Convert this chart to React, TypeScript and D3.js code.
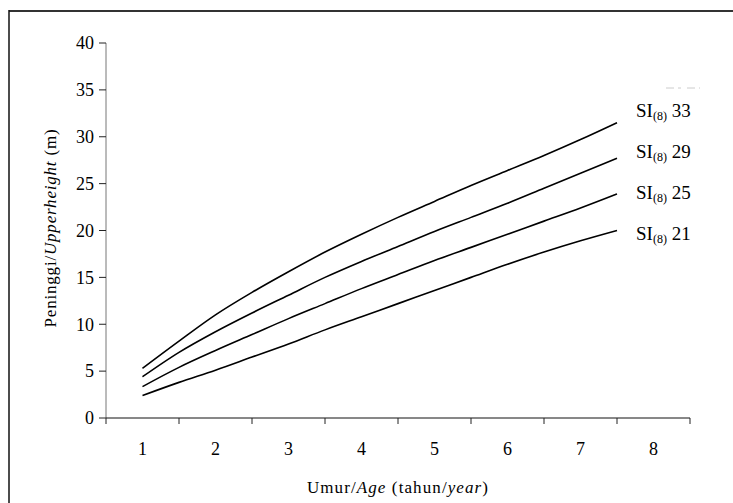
import React from 'react';
import * as d3 from 'd3';

// umur (tahun) sampled every half year
const ages = [1, 1.5, 2, 2.5, 3, 3.5, 4, 4.5, 5, 5.5, 6, 6.5, 7, 7.5];

const si33 = [5.3, 8.2, 11.0, 13.4, 15.6, 17.7, 19.6, 21.4, 23.1, 24.8, 26.4, 28.0, 29.7, 31.5];
const si29 = [4.4, 7.0, 9.2, 11.2, 13.1, 15.0, 16.7, 18.3, 19.9, 21.4, 22.9, 24.5, 26.1, 27.7];
const si25 = [3.35, 5.4, 7.2, 8.9, 10.6, 12.2, 13.8, 15.3, 16.8, 18.2, 19.6, 21.0, 22.4, 23.9];
const si21 = [2.4, 3.8, 5.1, 6.5, 7.9, 9.4, 10.8, 12.2, 13.6, 15.0, 16.4, 17.7, 18.9, 20.0];

const series = [
  {si: '33', values: si33},
  {si: '29', values: si29},
  {si: '25', values: si25},
  {si: '21', values: si21},
];

const xLabels = [1, 2, 3, 4, 5, 6, 7, 8];
const yTicks = [0, 5, 10, 15, 20, 25, 30, 35, 40];

const font = '"Liberation Serif", "Times New Roman", serif';

export default function App() {
  const x = d3.scaleLinear().domain([0.5, 8.5]).range([106, 690]);
  const y = d3.scaleLinear().domain([0, 40]).range([418, 43]);

  const line = d3.line<number>()
    .x((d, i) => x(ages[i]))
    .y((d) => y(d))
    .curve(d3.curveMonotoneX);

  const bandEdges = d3.range(0.5, 9, 1);
  const lastAge = ages[ages.length - 1];

  return (
    <svg width={733} height={503} style={{position: 'absolute', left: 0, top: 0, fontFamily: font}}>
      <rect width={733} height={503} fill="#fff" />
      {/* frame: only top and left edges show */}
      <line x1={9} x2={733} y1={11} y2={11} stroke="#333" strokeWidth={2} />
      <line x1={9} x2={9} y1={10} y2={503} stroke="#111" strokeWidth={1.5} />

      {/* y axis */}
      <line x1={106} x2={106} y1={y(40)} y2={y(0)} stroke="#777" strokeWidth={1} />
      {yTicks.map((t) => (
        <g key={t}>
          <line x1={99} x2={106} y1={y(t)} y2={y(t)} stroke="#222" />
          <text x={94} y={y(t)} dy="0.35em" textAnchor="end" fontSize={18}>{t}</text>
        </g>
      ))}

      {/* x axis */}
      <line x1={106} x2={690} y1={y(0)} y2={y(0)} stroke="#111" strokeWidth={1} />
      {bandEdges.map((e) => (
        <line key={e} x1={x(e)} x2={x(e)} y1={y(0)} y2={y(0) + 6} stroke="#222" />
      ))}
      {xLabels.map((l) => (
        <text key={l} x={x(l)} y={455} textAnchor="middle" fontSize={18}>{l}</text>
      ))}

      {/* curves */}
      {series.map((s) => (
        <path key={s.si} d={line(s.values) || ''} fill="none" stroke="#000" strokeWidth={1.6} />
      ))}

      {/* labels, stacked beside the line ends */}
      {series.map((s, i) => (
        <text key={'l' + s.si} x={x(lastAge) + 19} y={117 + i * 41} fontSize={19}>
          SI<tspan fontSize={12} dy={3}>(8)</tspan><tspan dy={-3}> {s.si}</tspan>
        </text>
      ))}

      {/* faint truncated mark */}
      <line x1={666} x2={700} y1={88} y2={88} stroke="#ccc" strokeWidth={1} strokeDasharray="8 4 3 6" />

      {/* axis titles */}
      <text transform="translate(56,228) rotate(-90)" textAnchor="middle" fontSize={17}
            letterSpacing={0.8}>
        Peninggi/<tspan fontStyle="italic">Upperheight</tspan> (m)
      </text>
      <text x={398} y={493} textAnchor="middle" fontSize={17} letterSpacing={1.1}>
        Umur/<tspan fontStyle="italic">Age</tspan> (tahun/<tspan fontStyle="italic">year</tspan>)
      </text>
    </svg>
  );
}
